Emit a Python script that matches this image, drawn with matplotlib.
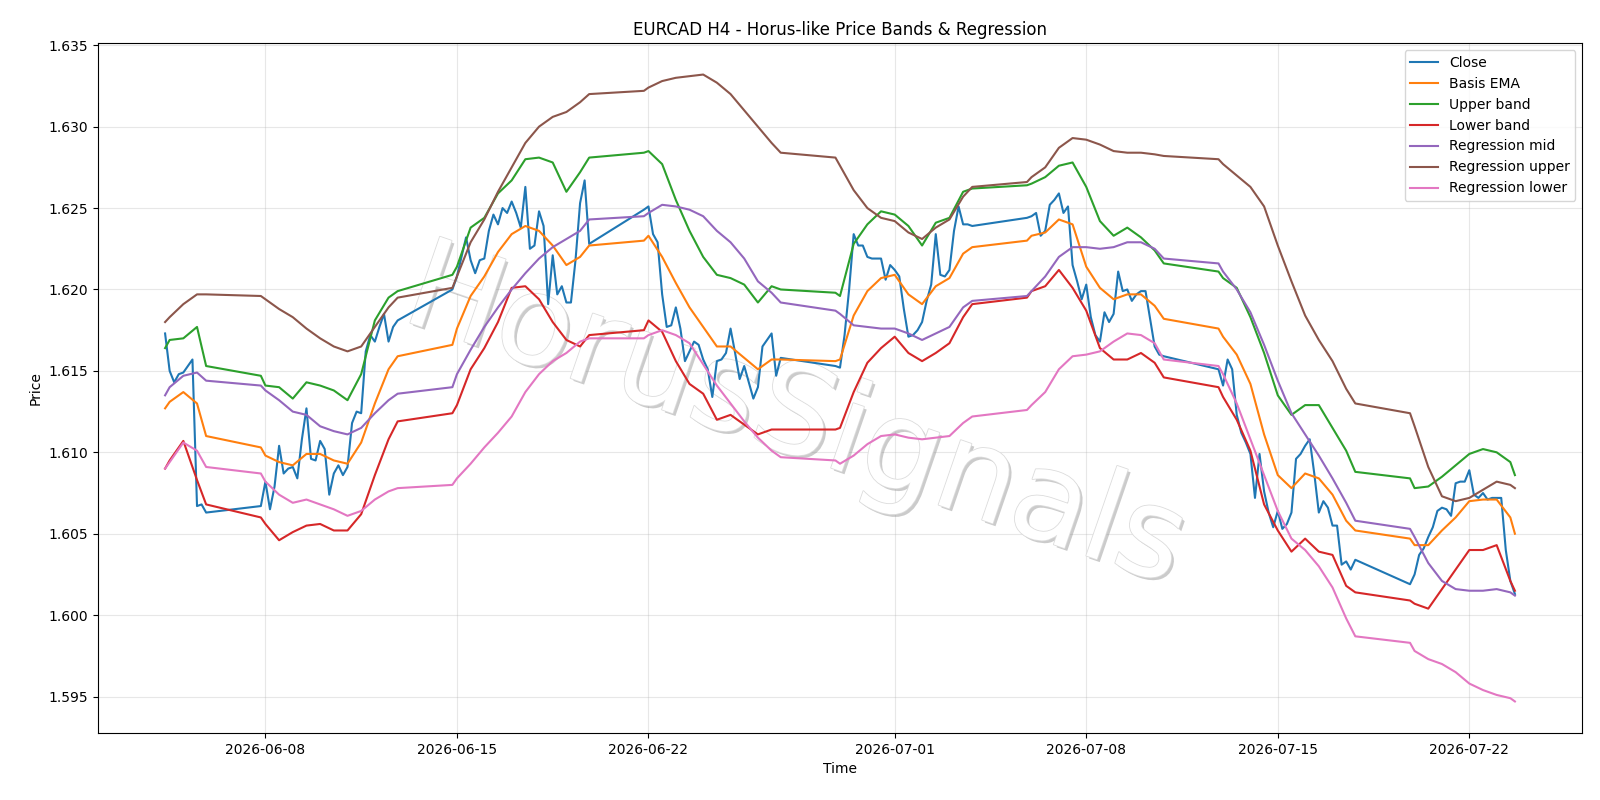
import matplotlib
matplotlib.use("Agg")
import matplotlib.pyplot as plt
import matplotlib.patheffects as pe
import pandas as pd

# trading sessions as (first H4 bar, last H4 bar); the gaps between them are weekends
SESSIONS = [
    ("2026-06-04 08:00", "2026-06-05 20:00"),
    ("2026-06-07 20:00", "2026-06-12 20:00"),
    ("2026-06-14 20:00", "2026-06-19 20:00"),
    ("2026-06-21 20:00", "2026-06-26 20:00"),
    ("2026-06-28 20:00", "2026-07-03 20:00"),
    ("2026-07-05 20:00", "2026-07-10 20:00"),
    ("2026-07-12 20:00", "2026-07-17 20:00"),
    ("2026-07-19 20:00", "2026-07-23 16:00"),
]

# close of every H4 bar, one row per session
close = [
    1.6173, 1.6150, 1.6143, 1.6148, 1.6149, 1.6153, 1.6157, 1.6067, 1.6068, 1.6063,
    1.6067,
    1.6082, 1.6065, 1.6079, 1.6104, 1.6087, 1.6090, 1.6091, 1.6084, 1.6108, 1.6127, 1.6096, 1.6095,
    1.6107, 1.6102, 1.6074, 1.6087, 1.6092, 1.6086, 1.6091, 1.6118, 1.6125, 1.6124, 1.6162, 1.6172,
    1.6168, 1.6177, 1.6185, 1.6168, 1.6177, 1.6181,
    1.6200,
    1.6208, 1.6220, 1.6232, 1.6218, 1.6210, 1.6218, 1.6219, 1.6236, 1.6246, 1.6240, 1.6250, 1.6247,
    1.6254, 1.6247, 1.6238, 1.6263, 1.6225, 1.6227, 1.6248, 1.6239, 1.6191, 1.6221, 1.6197, 1.6202,
    1.6192, 1.6192, 1.6218, 1.6253, 1.6267, 1.6228,
    1.6249,
    1.6251, 1.6234, 1.6229, 1.6197, 1.6177, 1.6178, 1.6189, 1.6176, 1.6156, 1.6162, 1.6168, 1.6166,
    1.6157, 1.6151, 1.6134, 1.6156, 1.6157, 1.6161, 1.6176, 1.6161, 1.6145, 1.6153, 1.6143, 1.6133,
    1.6140, 1.6165, 1.6169, 1.6173, 1.6147, 1.6158,
    1.6153,
    1.6152, 1.6172, 1.6200, 1.6234, 1.6227, 1.6227, 1.6220, 1.6219, 1.6219, 1.6219, 1.6206, 1.6215,
    1.6212, 1.6208, 1.6188, 1.6171, 1.6172, 1.6175, 1.6180, 1.6193, 1.6203, 1.6234, 1.6209, 1.6208,
    1.6212, 1.6236, 1.6251, 1.6240, 1.6240, 1.6239,
    1.6244,
    1.6245, 1.6247, 1.6233, 1.6236, 1.6252, 1.6255, 1.6259, 1.6247, 1.6251, 1.6215, 1.6205, 1.6194,
    1.6203, 1.6183, 1.6172, 1.6168, 1.6186, 1.6180, 1.6185, 1.6211, 1.6199, 1.6200, 1.6193, 1.6197,
    1.6199, 1.6199, 1.6182, 1.6165, 1.6160, 1.6159,
    1.6151,
    1.6141, 1.6157, 1.6151, 1.6123, 1.6112, 1.6106, 1.6099, 1.6072, 1.6099, 1.6076, 1.6063, 1.6054,
    1.6064, 1.6053, 1.6056, 1.6063, 1.6096, 1.6099, 1.6104, 1.6108, 1.6087, 1.6063, 1.6070, 1.6066,
    1.6055, 1.6055, 1.6031, 1.6033, 1.6028, 1.6034,
    1.6019,
    1.6025, 1.6037, 1.6041, 1.6048, 1.6054, 1.6064, 1.6066, 1.6065, 1.6061, 1.6081, 1.6082, 1.6082,
    1.6089, 1.6074, 1.6072, 1.6075, 1.6071, 1.6072, 1.6072, 1.6072, 1.6040, 1.6021, 1.6013,
]

# smoother series, read every 12 hours plus the first / last bar of each session
basis_ema = [
    1.6127, 1.6131, 1.6137, 1.6130, 1.6110,
    1.6103, 1.6098, 1.6094, 1.6092, 1.6099, 1.6099, 1.6095, 1.6093, 1.6106, 1.6130, 1.6151, 1.6159,
    1.6166, 1.6176, 1.6196, 1.6208, 1.6223, 1.6234, 1.6239, 1.6236, 1.6227, 1.6215, 1.6220, 1.6227,
    1.6230, 1.6233, 1.6220, 1.6204, 1.6189, 1.6177, 1.6165, 1.6165, 1.6158, 1.6151, 1.6157, 1.6157,
    1.6156, 1.6157, 1.6184, 1.6199, 1.6207, 1.6209, 1.6197, 1.6191, 1.6202, 1.6207, 1.6222, 1.6226,
    1.6230, 1.6233, 1.6235, 1.6243, 1.6240, 1.6214, 1.6201, 1.6194, 1.6197, 1.6197, 1.6190, 1.6182,
    1.6176, 1.6171, 1.6160, 1.6142, 1.6111, 1.6086, 1.6078, 1.6087, 1.6084, 1.6074, 1.6058, 1.6052,
    1.6047, 1.6043, 1.6043, 1.6052, 1.6060, 1.6070, 1.6071, 1.6071, 1.6060, 1.6050,
]
upper_band = [
    1.6164, 1.6169, 1.6170, 1.6177, 1.6153,
    1.6147, 1.6141, 1.6140, 1.6133, 1.6143, 1.6141, 1.6138, 1.6132, 1.6148, 1.6181, 1.6195, 1.6199,
    1.6209, 1.6214, 1.6238, 1.6244, 1.6259, 1.6267, 1.6280, 1.6281, 1.6278, 1.6260, 1.6272, 1.6281,
    1.6284, 1.6285, 1.6277, 1.6255, 1.6236, 1.6220, 1.6209, 1.6207, 1.6203, 1.6192, 1.6202, 1.6200,
    1.6198, 1.6196, 1.6228, 1.6240, 1.6248, 1.6246, 1.6239, 1.6227, 1.6241, 1.6244, 1.6260, 1.6262,
    1.6264, 1.6265, 1.6269, 1.6276, 1.6278, 1.6263, 1.6242, 1.6233, 1.6238, 1.6232, 1.6224, 1.6216,
    1.6211, 1.6207, 1.6201, 1.6183, 1.6161, 1.6135, 1.6123, 1.6129, 1.6129, 1.6115, 1.6101, 1.6088,
    1.6084, 1.6078, 1.6079, 1.6085, 1.6092, 1.6099, 1.6102, 1.6100, 1.6094, 1.6086,
]
lower_band = [
    1.6090, 1.6095, 1.6107, 1.6083, 1.6068,
    1.6060, 1.6056, 1.6046, 1.6051, 1.6055, 1.6056, 1.6052, 1.6052, 1.6062, 1.6086, 1.6108, 1.6119,
    1.6124, 1.6129, 1.6151, 1.6164, 1.6180, 1.6201, 1.6202, 1.6194, 1.6180, 1.6169, 1.6165, 1.6172,
    1.6175, 1.6181, 1.6174, 1.6156, 1.6142, 1.6136, 1.6120, 1.6123, 1.6117, 1.6111, 1.6114, 1.6114,
    1.6114, 1.6115, 1.6137, 1.6155, 1.6164, 1.6171, 1.6161, 1.6156, 1.6161, 1.6167, 1.6183, 1.6191,
    1.6195, 1.6199, 1.6202, 1.6212, 1.6201, 1.6187, 1.6164, 1.6157, 1.6157, 1.6161, 1.6155, 1.6146,
    1.6140, 1.6134, 1.6120, 1.6101, 1.6068, 1.6052, 1.6039, 1.6047, 1.6039, 1.6037, 1.6018, 1.6014,
    1.6009, 1.6007, 1.6004, 1.6016, 1.6028, 1.6040, 1.6040, 1.6043, 1.6021, 1.6015,
]
reg_mid = [
    1.6135, 1.6140, 1.6147, 1.6149, 1.6144,
    1.6141, 1.6138, 1.6132, 1.6125, 1.6123, 1.6116, 1.6113, 1.6111, 1.6115, 1.6124, 1.6132, 1.6136,
    1.6140, 1.6148, 1.6163, 1.6177, 1.6189, 1.6200, 1.6210, 1.6219, 1.6226, 1.6231, 1.6236, 1.6243,
    1.6245, 1.6247, 1.6252, 1.6251, 1.6249, 1.6245, 1.6236, 1.6229, 1.6219, 1.6205, 1.6198, 1.6192,
    1.6187, 1.6185, 1.6178, 1.6177, 1.6176, 1.6176, 1.6173, 1.6169, 1.6173, 1.6177, 1.6189, 1.6193,
    1.6196, 1.6199, 1.6208, 1.6220, 1.6226, 1.6226, 1.6225, 1.6226, 1.6229, 1.6229, 1.6225, 1.6219,
    1.6216, 1.6211, 1.6200, 1.6186, 1.6166, 1.6144, 1.6124, 1.6111, 1.6098, 1.6084, 1.6069, 1.6058,
    1.6053, 1.6048, 1.6032, 1.6021, 1.6016, 1.6015, 1.6015, 1.6016, 1.6014, 1.6012,
]
reg_upper = [
    1.6180, 1.6183, 1.6191, 1.6197, 1.6197,
    1.6196, 1.6194, 1.6188, 1.6183, 1.6176, 1.6170, 1.6165, 1.6162, 1.6165, 1.6177, 1.6189, 1.6195,
    1.6201, 1.6208, 1.6229, 1.6243, 1.6260, 1.6275, 1.6290, 1.6300, 1.6306, 1.6309, 1.6315, 1.6320,
    1.6322, 1.6324, 1.6328, 1.6330, 1.6331, 1.6332, 1.6327, 1.6320, 1.6310, 1.6300, 1.6290, 1.6284,
    1.6281, 1.6276, 1.6261, 1.6250, 1.6244, 1.6242, 1.6235, 1.6231, 1.6238, 1.6243, 1.6257, 1.6263,
    1.6266, 1.6269, 1.6275, 1.6287, 1.6293, 1.6292, 1.6289, 1.6285, 1.6284, 1.6284, 1.6283, 1.6282,
    1.6280, 1.6277, 1.6270, 1.6263, 1.6251, 1.6227, 1.6205, 1.6184, 1.6169, 1.6156, 1.6139, 1.6130,
    1.6124, 1.6116, 1.6091, 1.6073, 1.6070, 1.6072, 1.6077, 1.6082, 1.6080, 1.6078,
]
reg_lower = [
    1.6090, 1.6094, 1.6106, 1.6101, 1.6091,
    1.6087, 1.6082, 1.6074, 1.6069, 1.6071, 1.6068, 1.6065, 1.6061, 1.6064, 1.6071, 1.6076, 1.6078,
    1.6080, 1.6084, 1.6093, 1.6103, 1.6112, 1.6122, 1.6137, 1.6148, 1.6156, 1.6161, 1.6168, 1.6170,
    1.6170, 1.6172, 1.6175, 1.6172, 1.6167, 1.6154, 1.6141, 1.6130, 1.6119, 1.6109, 1.6101, 1.6097,
    1.6095, 1.6093, 1.6098, 1.6105, 1.6110, 1.6111, 1.6109, 1.6108, 1.6109, 1.6110, 1.6118, 1.6122,
    1.6126, 1.6129, 1.6137, 1.6151, 1.6159, 1.6160, 1.6162, 1.6168, 1.6173, 1.6172, 1.6167, 1.6157,
    1.6153, 1.6148, 1.6130, 1.6108, 1.6086, 1.6064, 1.6047, 1.6040, 1.6030, 1.6017, 1.5998, 1.5987,
    1.5983, 1.5978, 1.5973, 1.5970, 1.5965, 1.5958, 1.5954, 1.5951, 1.5949, 1.5947,
]


def bar_times():
    """every H4 bar of every session"""
    times = []
    for start, end in SESSIONS:
        times += list(pd.date_range(start, end, freq="4h"))
    return pd.DatetimeIndex(times)


def knot_times():
    """first bar, every 00:00 / 12:00, last bar - for each session"""
    times = []
    for start, end in SESSIONS:
        start, end = pd.Timestamp(start), pd.Timestamp(end)
        pts = [start] + [t for t in pd.date_range(start.ceil("12h"), end, freq="12h") if t != start]
        if pts[-1] != end:
            pts.append(end)
        times += pts
    return pd.DatetimeIndex(times)


def main():
    t_bar = bar_times()
    t_knot = knot_times()

    fig, ax = plt.subplots(figsize=(16, 8), dpi=100)
    fig.subplots_adjust(left=0.061, right=0.989, top=0.946, bottom=0.084)

    ax.plot(t_bar, close, label="Close")
    ax.plot(t_knot, basis_ema, label="Basis EMA")
    ax.plot(t_knot, upper_band, label="Upper band")
    ax.plot(t_knot, lower_band, label="Lower band")
    ax.plot(t_knot, reg_mid, label="Regression mid")
    ax.plot(t_knot, reg_upper, label="Regression upper")
    ax.plot(t_knot, reg_lower, label="Regression lower")

    ax.set_title("EURCAD H4 - Horus-like Price Bands & Regression")
    ax.set_xlabel("Time")
    ax.set_ylabel("Price")
    ax.grid(True, alpha=0.3)
    ax.legend(loc="upper right")

    # watermark: pale letters with a thin grey drop shadow
    ax.text(0.47, 0.455, "HorusSignals", transform=ax.transAxes, fontsize=90,
            rotation=-19, ha="center", va="center", color="white", zorder=1.6,
            path_effects=[pe.SimplePatchShadow(offset=(2, -2), shadow_rgbFace="#8c8c8c", alpha=0.45),
                          pe.Stroke(linewidth=1.2, foreground="#dcdcdc"),
                          pe.Normal()])

    fig.savefig("out.png")


if __name__ == '__main__':
    main()
